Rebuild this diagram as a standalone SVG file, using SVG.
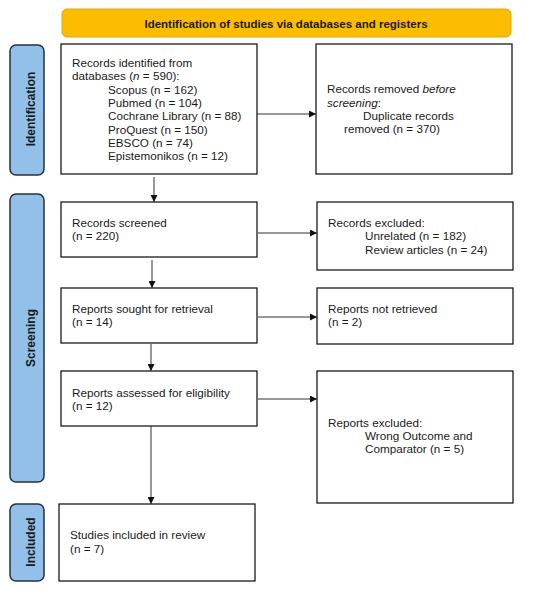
<svg xmlns="http://www.w3.org/2000/svg" width="550" height="590" viewBox="0 0 550 590">
<defs>
<style>
.bx{fill:#fff;stroke:#1a1a1a;stroke-width:1.3}
.side{fill:#92C0E8;stroke:#24313f;stroke-width:1.5}
.t{font-family:"Liberation Sans",Arial,sans-serif;font-size:11.7px;fill:#1a1a1a}
.sb{font-family:"Liberation Sans",Arial,sans-serif;font-size:12px;font-weight:bold;fill:#1a1a1a;text-anchor:middle}
.hd{font-family:"Liberation Sans",Arial,sans-serif;font-size:11.5px;font-weight:bold;fill:#1a1a1a;text-anchor:middle}
.ln{stroke:#333;stroke-width:1;fill:none;marker-end:url(#ah)}
</style>
<marker id="ah" viewBox="0 0 10 10" refX="10" refY="5" markerWidth="7" markerHeight="7" markerUnits="userSpaceOnUse" orient="auto">
<path d="M0,0 L10,5 L0,10 Z" fill="#111"/>
</marker>
</defs>
<rect width="550" height="590" fill="#fff"/>
<g id="header">
<rect x="62" y="9" width="449" height="28" rx="5" fill="#FCBC00" stroke="#DDA51A" stroke-width="1"/>
<text class="hd" x="286" y="27.5">Identification of studies via databases and registers</text>
</g>
<g id="side-identification">
<rect class="side" x="10" y="45" width="34" height="130" rx="6"/>
<text class="sb" transform="translate(35,109) rotate(-90)">Identification</text>
</g>
<g id="side-screening">
<rect class="side" x="10" y="194" width="34" height="288" rx="6"/>
<text class="sb" transform="translate(35,338) rotate(-90)">Screening</text>
</g>
<g id="side-included">
<rect class="side" x="10" y="504" width="34" height="77" rx="6"/>
<text class="sb" transform="translate(35,542) rotate(-90)">Included</text>
</g>
<g id="records-identified">
<rect class="bx" x="61" y="44" width="196" height="130"/>
<text class="t" x="72" y="67">Records identified from</text>
<text class="t" x="72" y="80.3">databases (<tspan font-style="italic">n</tspan> = 590):</text>
<text class="t" x="108" y="93.6">Scopus (n = 162)</text>
<text class="t" x="108" y="107">Pubmed (n = 104)</text>
<text class="t" x="108" y="120.3">Cochrane Library (n = 88)</text>
<text class="t" x="108" y="133.6">ProQuest (n = 150)</text>
<text class="t" x="108" y="147">EBSCO (n = 74)</text>
<text class="t" x="108" y="160.3">Epistemonikos (n = 12)</text>
</g>
<g id="records-removed">
<rect class="bx" x="316" y="44" width="196" height="130"/>
<text class="t" x="327" y="93.3">Records removed <tspan font-style="italic">before</tspan></text>
<text class="t" x="327" y="106.7"><tspan font-style="italic">screening</tspan>:</text>
<text class="t" x="363" y="120">Duplicate records</text>
<text class="t" x="344" y="133.3">removed  (n = 370)</text>
</g>
<g id="records-screened">
<rect class="bx" x="61" y="202" width="196" height="55"/>
<text class="t" x="72" y="226.7">Records screened</text>
<text class="t" x="72" y="240">(n = 220)</text>
</g>
<g id="records-excluded">
<rect class="bx" x="317" y="202" width="196" height="68"/>
<text class="t" x="328" y="226.7">Records excluded:</text>
<text class="t" x="365" y="240">Unrelated (n = 182)</text>
<text class="t" x="365" y="254">Review articles (n = 24)</text>
</g>
<g id="reports-sought">
<rect class="bx" x="61" y="288" width="196" height="55"/>
<text class="t" x="72" y="312.7">Reports sought for retrieval</text>
<text class="t" x="72" y="326">(n = 14)</text>
</g>
<g id="reports-not-retrieved">
<rect class="bx" x="317" y="288" width="196" height="56"/>
<text class="t" x="328" y="312.7">Reports not retrieved</text>
<text class="t" x="328" y="326">(n = 2)</text>
</g>
<g id="reports-assessed">
<rect class="bx" x="61" y="371" width="196" height="55"/>
<text class="t" x="72" y="396.7">Reports assessed for eligibility</text>
<text class="t" x="72" y="410">(n = 12)</text>
</g>
<g id="reports-excluded">
<rect class="bx" x="317" y="371" width="196" height="132"/>
<text class="t" x="328" y="426.7">Reports excluded:</text>
<text class="t" x="365" y="440">Wrong Outcome and</text>
<text class="t" x="365" y="453.3">Comparator (n = 5)</text>
</g>
<g id="studies-included">
<rect class="bx" x="59" y="504" width="196" height="77"/>
<text class="t" x="70" y="539.3">Studies included in review</text>
<text class="t" x="70" y="552.7">(n = 7)</text>
</g>
<g id="connectors">
<line class="ln" x1="257" y1="114" x2="316" y2="114"/>
<line class="ln" x1="258" y1="233" x2="317" y2="233"/>
<line class="ln" x1="258" y1="317" x2="317" y2="317"/>
<line class="ln" x1="258" y1="399" x2="317" y2="399"/>
<line class="ln" x1="154" y1="177" x2="154" y2="202"/>
<line class="ln" x1="152" y1="260" x2="152" y2="288"/>
<line class="ln" x1="151" y1="344" x2="151" y2="371"/>
<line class="ln" x1="151" y1="426" x2="151" y2="504"/>
</g>
</svg>
